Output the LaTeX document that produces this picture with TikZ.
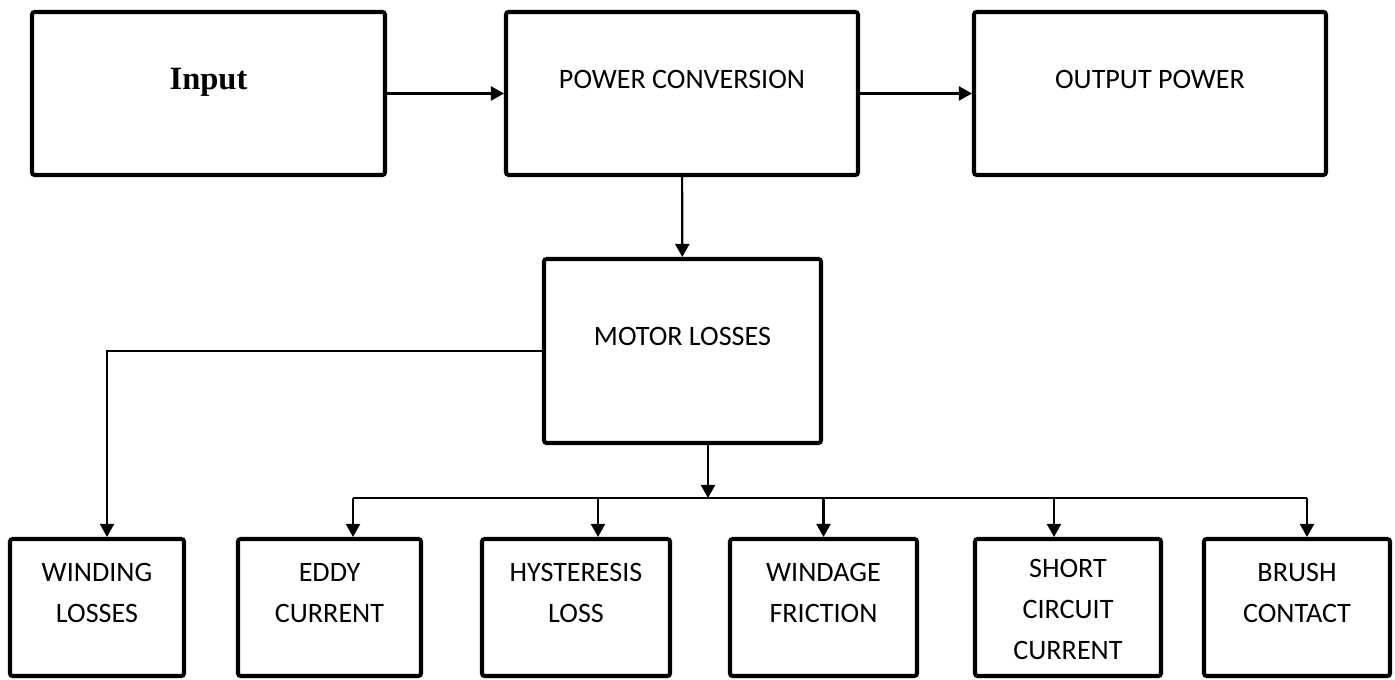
\documentclass[tikz,border=0pt]{standalone}
\usepackage{fontspec}
\setmainfont{Carlito}
\newfontfamily\inputfont{Liberation Serif}
\usetikzlibrary{arrows.meta, positioning, calc}
\tikzset{
  blk/.style={rectangle, draw=black, line width=2.3pt, rounded corners=1.5pt,
    minimum width=7.04cm, minimum height=3.26cm, align=center,
    font=\fontsize{16}{23.3}\selectfont, inner sep=0pt,
    text height=11pt, text depth=17.2pt},
  blkM/.style={blk, minimum width=5.54cm, minimum height=3.68cm},
  lossbox/.style={blk, minimum width=3.72cm, minimum height=2.74cm,
    text height=20pt, text depth=2.9pt},
  lossbox3/.style={lossbox, text height=60pt, text depth=1.3pt},
  arr/.style={-{Triangle[length=0.26cm, width=0.28cm]}, line width=1.2pt},
  bus/.style={line width=0.9pt},
}
\begin{document}
\begin{tikzpicture}
  \useasboundingbox (0,0) rectangle (27.9,13.6);

  % ---- top row ----
  \node[blk, minimum width=7.06cm, text height=13pt, text depth=17.3pt] (input)
        at (4.17,11.73) {\inputfont\bfseries\fontsize{18.5}{22}\selectfont Input};
  \node[blk] (conv) at (13.64,11.73) {POWER CONVERSION};
  \node[blk] (outp) at (23.00,11.73) {OUTPUT POWER};

  % ---- losses ----
  \node[blkM] (motor) at (13.65,6.58) {MOTOR LOSSES};

  % ---- loss types ----
  \node[lossbox, minimum width=3.48cm] (wind)    at (1.94,1.45)  {WINDING\\LOSSES};
  \node[lossbox, minimum width=3.66cm] (eddy)    at (6.59,1.45)  {EDDY\\CURRENT};
  \node[lossbox, minimum width=3.76cm] (hyst)    at (11.52,1.45) {HYSTERESIS\\LOSS};
  \node[lossbox, minimum width=3.74cm] (windage) at (16.47,1.45) {WINDAGE\\FRICTION};
  \node[lossbox3]                      (short)   at (21.36,1.45) {SHORT\\CIRCUIT\\CURRENT};
  \node[lossbox]                       (brush)   at (25.94,1.45) {BRUSH\\CONTACT};

  % ---- arrows ----
  \coordinate (busL) at (7.06,3.64);
  \coordinate (busR) at (26.14,3.64);
  \draw[arr] (input) -- (conv);
  \draw[arr] (conv)  -- (outp);
  \draw[arr] (conv)  -- (motor);
  \draw[arr, bus] (motor.west) -| ([xshift=0.2cm]wind.north);
  \draw[arr] ([xshift=0.51cm]motor.south) -- ([xshift=0.51cm]motor.south |- busL);
  \draw[bus] (busL) -- (busR);
  \draw[arr] (busL) -- (busL |- eddy.north);
  \draw[arr] ([xshift=0.44cm]hyst.north |- busL) -- ([xshift=0.44cm]hyst.north);
  \draw[arr] (windage.north |- busL) -- (windage.north);
  \draw[arr] ([xshift=-0.28cm]short.north |- busL) -- ([xshift=-0.28cm]short.north);
  \draw[arr] (busR) -- (busR |- brush.north);
\end{tikzpicture}
\end{document}
